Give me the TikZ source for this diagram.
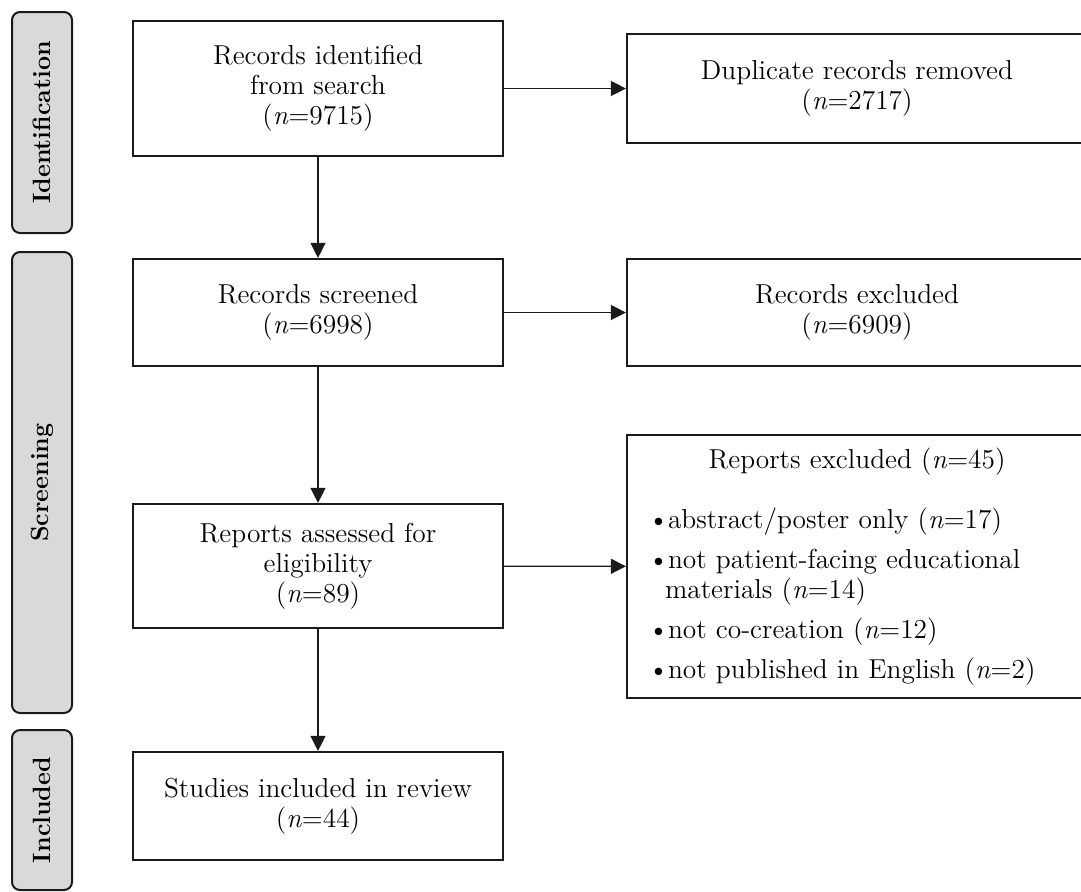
\documentclass[tikz,border=0pt]{standalone}
\usepackage{fontspec}
\usepackage{tikz}
\usetikzlibrary{arrows.meta,positioning}
\definecolor{ink}{HTML}{1A1A1A}
\definecolor{side}{HTML}{D9D9D9}
\newcommand\exitem{\par\vspace{5pt}\noindent\makebox[10pt][l]{\textbullet}}
\tikzset{
  >={Triangle[length=7.5pt,width=7.5pt]},
  every picture/.style={line width=1pt,draw=ink,font=\fontsize{13.7}{15}\selectfont},
  bx/.style={draw=ink,fill=white,line width=1.1pt,align=center,inner sep=0pt,minimum width=185pt},
  bxr/.style={bx,minimum width=230pt},
  phase/.style={draw=ink,fill=side,rounded corners=4pt,line width=1pt,inner sep=0pt,minimum width=30pt},
  phlab/.style={rotate=90,font=\fontsize{12.5}{14}\selectfont\bfseries},
  arr/.style={->,draw=ink,line width=0.65pt},
}
\begin{document}
\begin{tikzpicture}[x=0.5pt,y=-0.5pt]
  \clip (0,0) rectangle (1081,891);
  % phases
  \node[phase,minimum height=110.5pt] (pid) at (42,122.5) {};
  \node[phase,minimum height=230.5pt] (psc) at (42,482.5) {};
  \node[phase,minimum height=80pt] (pin) at (42,810) {};
  \node[phlab] (tid) at (pid) {Identification};
  \node[phlab] (tsc) at (psc) {Screening};
  \node[phlab] (tin) at (pin) {Included};
  % main column
  \node[bx,minimum height=67.5pt] (idf) at (318,88.5) {Records identified\\from search\\(\textit{n}=9715)};
  \node[bx,minimum height=53.5pt] (scr) at (318,312.5) {Records screened\\(\textit{n}=6998)};
  \node[bx,minimum height=62pt] (elg) at (318,566) {Reports assessed for\\eligibility\\(\textit{n}=89)};
  \node[bx,minimum height=54pt] (inc) at (318,806) {Studies included in review\\(\textit{n}=44)};
  % exclusions
  \node[bxr,minimum height=54.5pt] (dup) at (857,88.5) {Duplicate records removed\\(\textit{n}=2717)};
  \node[bxr,minimum height=53.5pt] (rex) at (857,312.5) {Records excluded\\(\textit{n}=6909)};
  \node[bx,minimum width=0pt,minimum height=131.5pt,text width=209pt,inner xsep=10.5pt,align=left] (pex) at (857,566.5) {%
    {\centering Reports excluded (\textit{n}=45)\par}\vspace{10pt}%
    \exitem abstract/poster only (\textit{n}=17)%
    \exitem not patient-facing educational\par\noindent\hspace*{8.5pt}materials (\textit{n}=14)%
    \exitem not co-creation (\textit{n}=12)%
    \exitem not published in English (\textit{n}=2)};
  \draw[arr] (idf) -- (scr);
  \draw[arr] (scr) -- (elg);
  \draw[arr] (elg) -- (inc);
  \draw[arr] (idf) -- (dup);
  \draw[arr] (scr) -- (rex);
  \draw[arr] (elg) -- (pex);
\end{tikzpicture}
\end{document}
